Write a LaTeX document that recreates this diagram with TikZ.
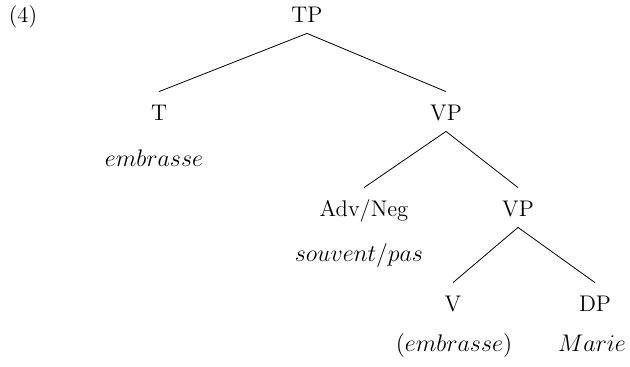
\documentclass[tikz,border=0pt]{standalone}
\usepackage{amsmath}
\usepackage{tikz}

\begin{document}
\begin{tikzpicture}[x=0.5pt,y=0.5pt,
    cat/.style={font=\fontsize{11.3}{13}\selectfont, anchor=base,
        inner xsep=1pt, inner ysep=5.5pt, text height=8.5pt, text depth=0pt},
    word/.style={font=\fontsize{12.6}{15}\selectfont, anchor=base, inner sep=0pt}]
    \useasboundingbox (0,0) rectangle (630,366);

    \node[cat] (num) at (23,344) {(4)};

    % categories
    \node[cat] (tp)  at (307,344) {TP};
    \node[cat] (t)   at (159,246) {T};
    \node[cat] (vp1) at (446,246) {VP};
    \node[cat] (adv) at (364,150) {Adv/Neg};
    \node[cat] (vp2) at (518,150) {VP};
    \node[cat] (v)   at (453,55)  {V};
    \node[cat] (dp)  at (595,55)  {DP};

    % words under the heads
    \node[word] (w1) at (154,200) {$embrasse$};
    \node[word] (w2) at (359,105) {$souvent/pas$};
    \node[word] (w3) at (454,15)  {$(embrasse)$};
    \node[word] (w4) at (592,15)  {$Marie$};

    \draw (tp.south) -- (t.north);
    \draw (tp.south) -- (vp1.north);
    \draw (vp1.south) -- (adv.north);
    \draw (vp1.south) -- (vp2.north);
    \draw (vp2.south) -- (v.north);
    \draw (vp2.south) -- (dp.north);
\end{tikzpicture}
\end{document}
